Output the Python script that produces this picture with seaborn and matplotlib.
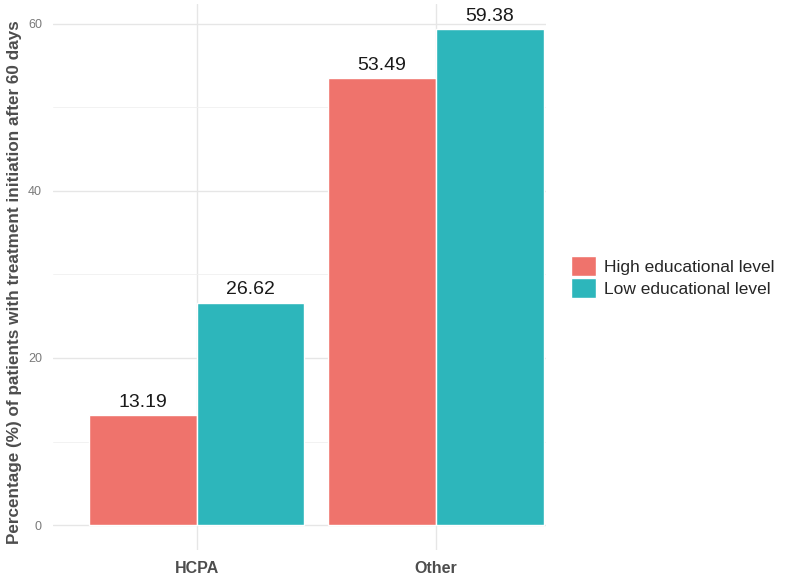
import pandas as pd
import numpy as np
import matplotlib
matplotlib.use("Agg")
import matplotlib.pyplot as plt
import seaborn as sns

# data
HOSPITALS = ["HCPA", "Other"]
LEVELS = ["High educational level", "Low educational level"]
HIGH_EDU = [13.19, 53.49]
LOW_EDU = [26.62, 59.38]
COLORS = ["#EF736C", "#2DB6BB"]

df = pd.DataFrame({
    "hospital": HOSPITALS * 2,
    "level": [LEVELS[0]] * 2 + [LEVELS[1]] * 2,
    "pct": HIGH_EDU + LOW_EDU,
})

sns.set_style("white")
plt.rcParams["font.family"] = ["Liberation Sans", "DejaVu Sans"]

fig = plt.figure(figsize=(8, 5.79), dpi=100)
ax = fig.add_axes([53 / 800, 29 / 579, (546 - 53) / 800, (550 - 4) / 579])

sns.barplot(data=df, x="hospital", y="pct", hue="level", hue_order=LEVELS,
            palette=COLORS, width=0.9, saturation=1, ax=ax, zorder=2)

for cont in ax.containers:
    ax.bar_label(cont, fmt="%.2f", padding=3, fontsize=14, color="#1a1a1a")

top = max(HIGH_EDU + LOW_EDU)
ax.set_ylim(-0.05 * top, 1.05 * top)
ax.set_xlim(-0.6, 1.46)
ax.set_yticks([0, 20, 40, 60])
ax.set_yticks([10, 30, 50], minor=True)
ax.grid(axis="y", which="major", color="#E6E6E6", linewidth=1.0, zorder=0)
ax.grid(axis="y", which="minor", color="#F0F0F0", linewidth=0.6, zorder=0)
ax.grid(axis="x", which="major", color="#E6E6E6", linewidth=1.0, zorder=0)
ax.set_axisbelow(True)
for s in ax.spines.values():
    s.set_visible(False)
ax.tick_params(axis="both", which="both", length=0)
ax.tick_params(axis="y", labelsize=9, labelcolor="#7a7a7a", pad=8)
ax.tick_params(axis="x", labelsize=11.5, labelcolor="#4d4d4d", pad=8)
for lab in ax.get_xticklabels():
    lab.set_fontweight("bold")

ax.set_xlabel("")
ax.set_ylabel("Percentage (%) of patients with treatment initiation after 60 days",
              fontsize=12.3, fontweight="bold", color="#4d4d4d")
ax.yaxis.set_label_coords(-0.062, 0.49)

ax.legend(title=None, frameon=False, loc="center left", bbox_to_anchor=(1.02, 0.5),
          fontsize=12.5, handlelength=1.4, handleheight=1.4, labelspacing=0.12,
          handletextpad=0.5)

fig.savefig("out.png", dpi=100)
